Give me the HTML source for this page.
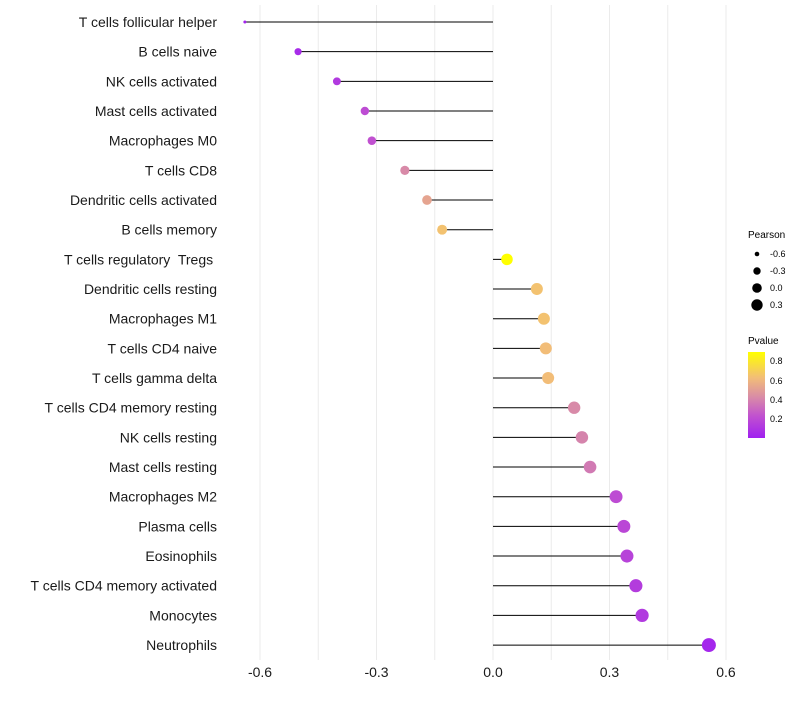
<!DOCTYPE html>
<html><head><meta charset="utf-8"><style>
body{margin:0;background:#fff;font-family:"Liberation Sans",sans-serif}
</style></head><body>
<svg id="chart" width="800" height="700" xmlns="http://www.w3.org/2000/svg">
<defs><linearGradient id="pg" x1="0" y1="1" x2="0" y2="0">
<stop offset="0" stop-color="#a020f0"/><stop offset="0.25" stop-color="#c050d0"/><stop offset="0.47" stop-color="#d88aa8"/><stop offset="0.7" stop-color="#f2bd78"/><stop offset="1" stop-color="#ffff00"/></linearGradient></defs>
<g id="grid"></g>
<g id="marks"></g>
<g id="axes"></g>
<g font-size="9" fill="#000">
<text x="748" y="238" font-size="10">Pearson</text>
<circle cx="757" cy="254" r="2.3"/><text x="770" y="257">-0.6</text>
<circle cx="757" cy="271" r="3.7"/><text x="770" y="274">-0.3</text>
<circle cx="757" cy="288" r="4.8"/><text x="770" y="291">0.0</text>
<circle cx="757" cy="305" r="5.7"/><text x="770" y="308">0.3</text>
</g>
<g font-size="9" fill="#000">
<text x="748" y="344" font-size="10">Pvalue</text>
<rect x="748" y="352" width="17" height="86" fill="url(#pg)"/>
<text x="770" y="364">0.8</text><text x="770" y="384">0.6</text><text x="770" y="403">0.4</text><text x="770" y="422">0.2</text>
</g>
</svg>
<script>
const categories=["T cells follicular helper","B cells naive","NK cells activated","Mast cells activated","Macrophages M0","T cells CD8","Dendritic cells activated","B cells memory","T cells regulatory\u00a0 Tregs\u00a0","Dendritic cells resting","Macrophages M1","T cells CD4 naive","T cells gamma delta","T cells CD4 memory resting","NK cells resting","Mast cells resting","Macrophages M2","Plasma cells","Eosinophils","T cells CD4 memory activated","Monocytes","Neutrophils"];
const pearson=[-0.639,-0.502,-0.402,-0.330,-0.312,-0.227,-0.170,-0.131,0.036,0.113,0.131,0.136,0.142,0.209,0.229,0.250,0.317,0.337,0.345,0.368,0.384,0.556];
const pvalue=[0.02,0.05,0.12,0.2,0.22,0.4,0.5,0.62,0.89,0.62,0.62,0.6,0.6,0.4,0.38,0.35,0.2,0.18,0.16,0.13,0.12,0.03];
const xTicks=[-0.6,-0.3,0.0,0.3,0.6];
const NS="http://www.w3.org/2000/svg";
const x=v=>493+v*388.3;
const y=i=>22+i*29.67;
function mk(t,a,p){const e=document.createElementNS(NS,t);for(const k in a)e.setAttribute(k,a[k]);p.appendChild(e);return e;}
const stops=[[0,[160,32,240]],[0.22,[192,80,208]],[0.4,[216,138,168]],[0.6,[242,189,120]],[0.89,[255,255,0]]];
function col(p){if(p<=stops[0][0])return `rgb(${stops[0][1]})`;for(let i=1;i<stops.length;i++){if(p<=stops[i][0]){const a=stops[i-1],b=stops[i],t=(p-a[0])/(b[0]-a[0]);return `rgb(${a[1].map((c,j)=>Math.round(c+(b[1][j]-c)*t)).join(",")})`;}}return "rgb(255,255,0)";}
const rs=[[-0.64,1.5],[-0.5,3.6],[-0.33,4.2],[-0.13,5.0],[0.04,5.8],[0.3,6.4],[0.56,7.0]];
function rad(v){if(v<=rs[0][0])return rs[0][1];for(let i=1;i<rs.length;i++){if(v<=rs[i][0]){const a=rs[i-1],b=rs[i];return a[1]+(b[1]-a[1])*(v-a[0])/(b[0]-a[0]);}}return 7;}
const grid=document.getElementById('grid'),marks=document.getElementById('marks'),axes=document.getElementById('axes');
[-0.6,-0.45,-0.3,-0.15,0,0.15,0.3,0.45,0.6].forEach(v=>{const l=mk('line',{x1:x(v),x2:x(v),y1:5,y2:660,stroke:'#ebebeb','stroke-width':1},grid);

});
categories.forEach((c,i)=>{
const ln=mk('line',{x1:x(0),x2:x(pearson[i]),y1:y(i),y2:y(i),stroke:'#000','stroke-width':1},marks);


const pt=mk('circle',{cx:x(pearson[i]),cy:y(i),r:rad(pearson[i]),fill:col(pvalue[i])},marks);


const t=mk('text',{x:217,y:y(i)+5,'text-anchor':'end','font-size':14,fill:'#1a1a1a'},axes);t.textContent=c;


});
xTicks.forEach(v=>{const t=mk('text',{x:x(v),y:677,'text-anchor':'middle','font-size':14,fill:'#1a1a1a'},axes);t.textContent=v.toFixed(1);

});
</script>
</body></html>
